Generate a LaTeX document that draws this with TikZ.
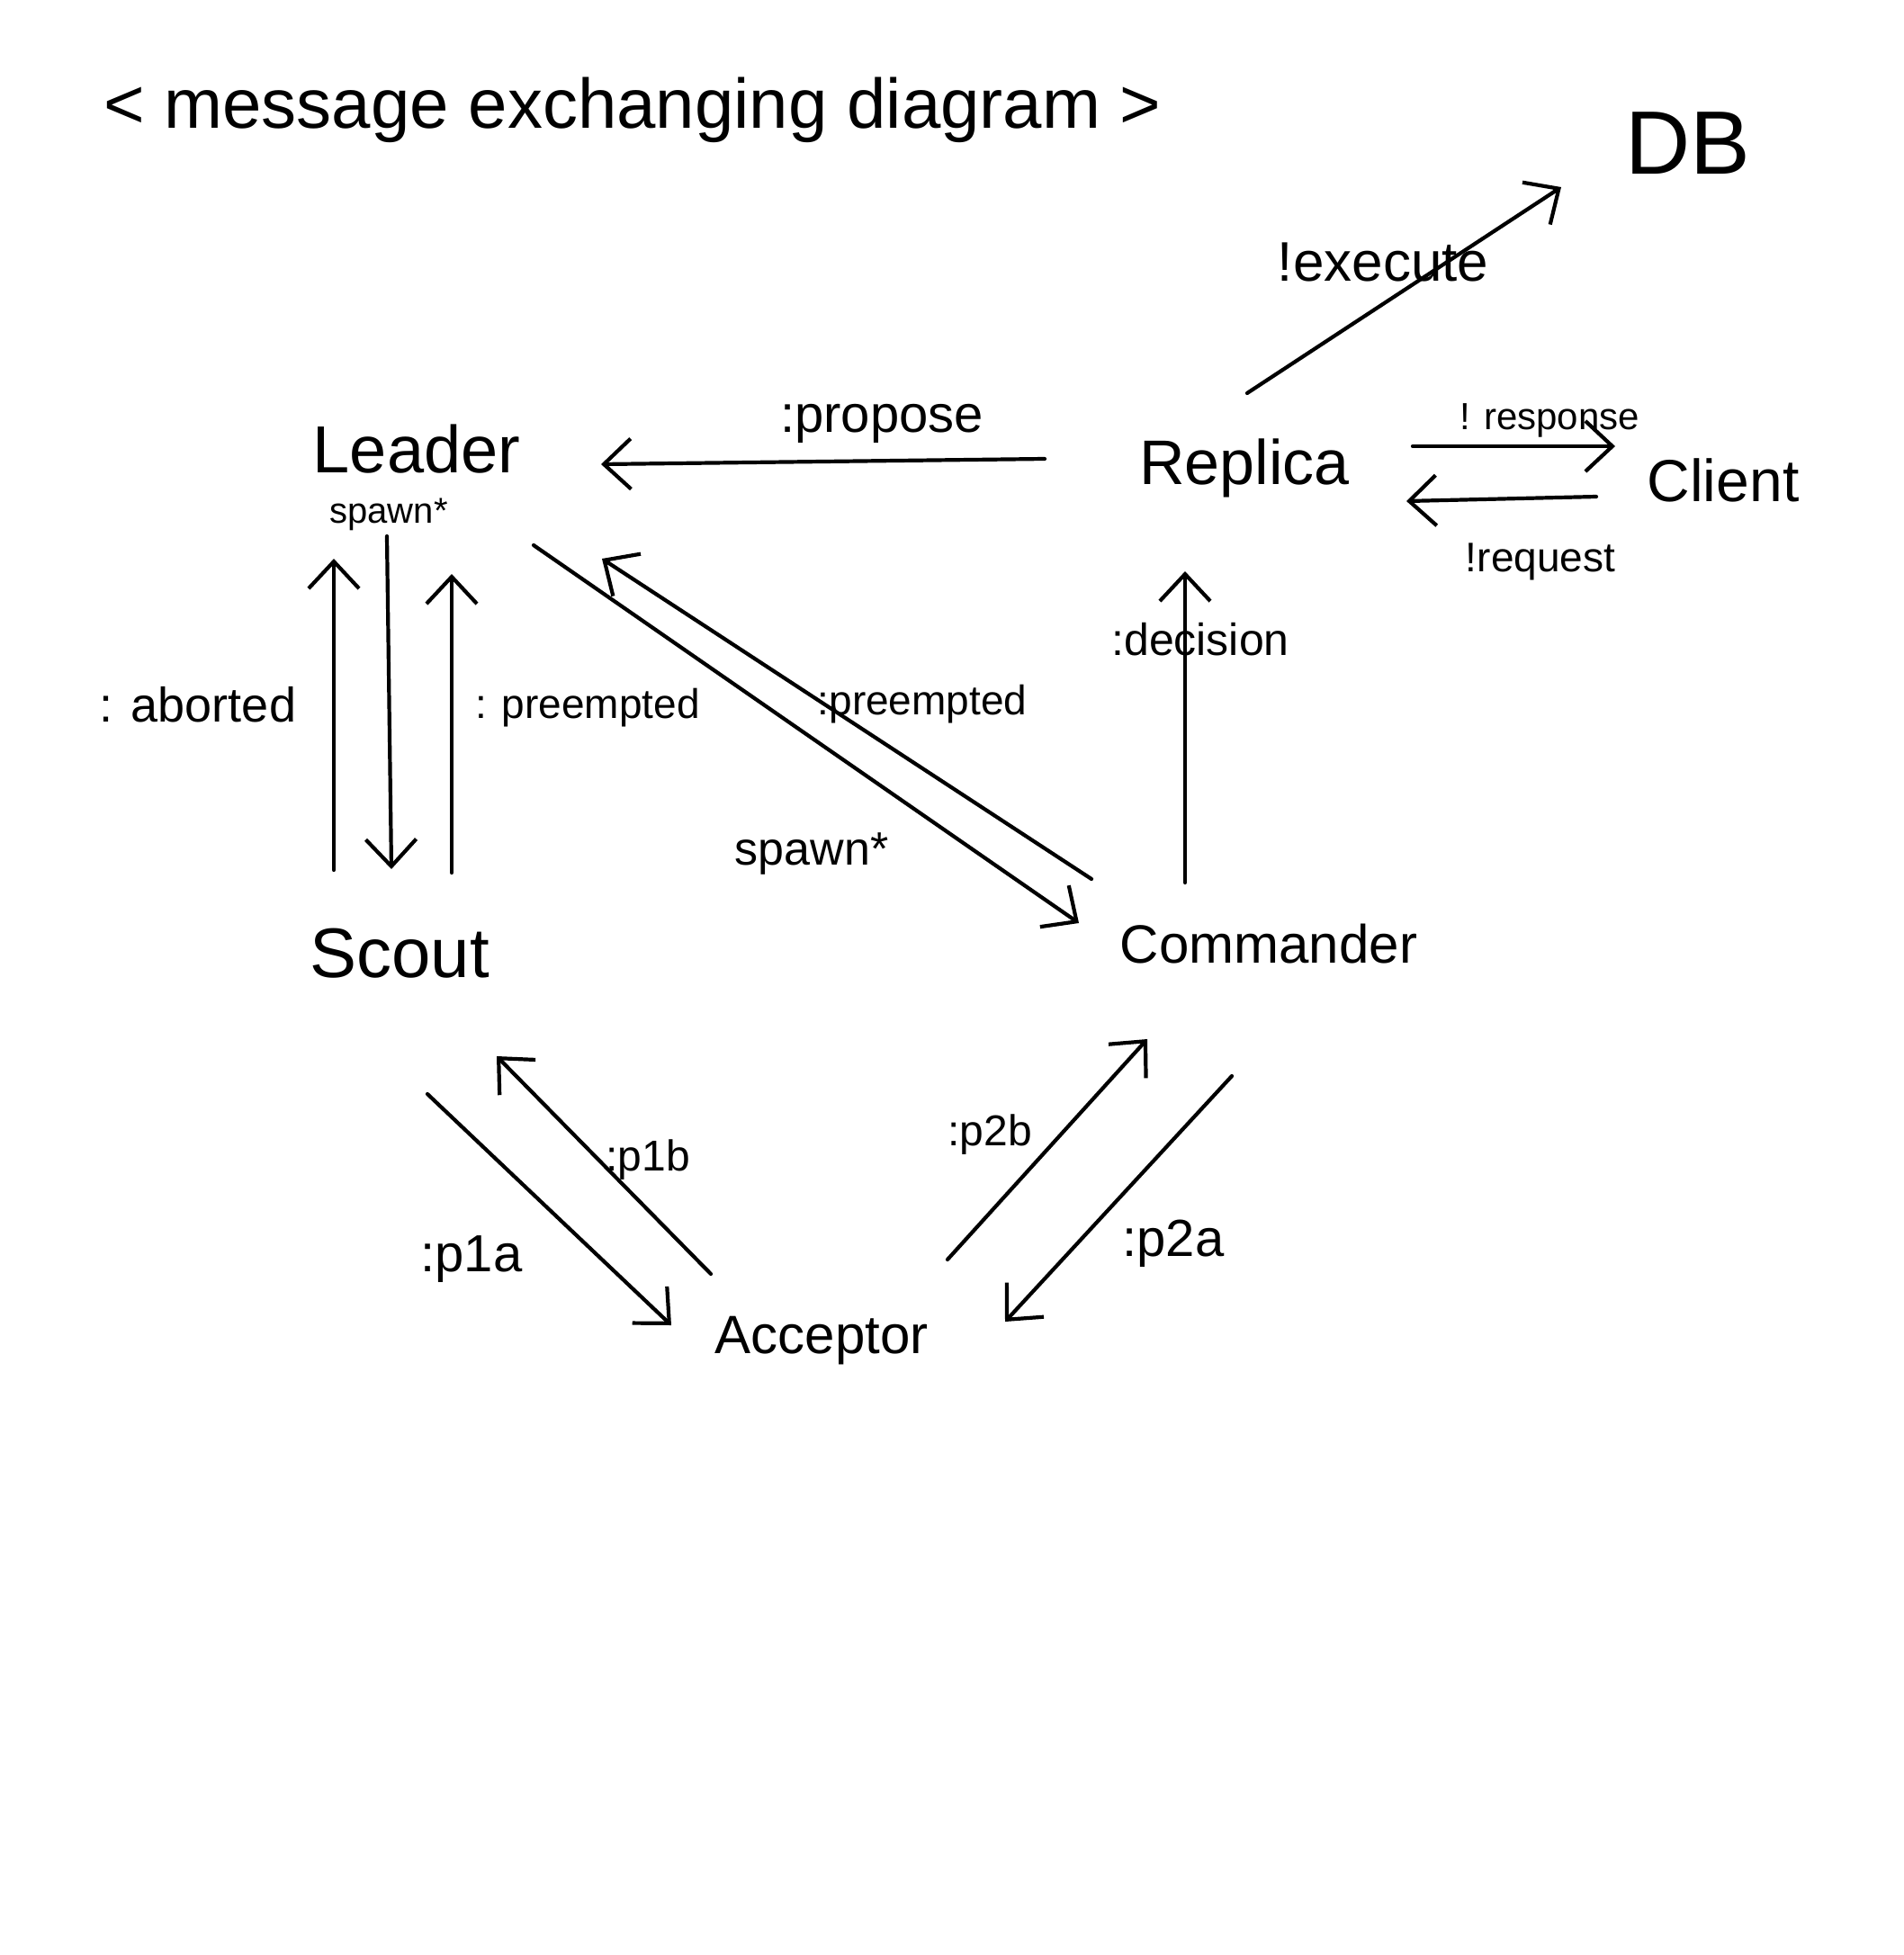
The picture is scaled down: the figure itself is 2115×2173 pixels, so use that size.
\documentclass[tikz,border=0pt]{standalone}
\usepackage{fontspec}
\setmainfont{Liberation Sans}
\usetikzlibrary{arrows.meta}
\begin{document}
\begin{tikzpicture}[x=0.5pt,y=-0.5pt,
  msg/.style={line width=2.1pt, line cap=round, -{Straight Barb[length=15pt,width=28pt,line width=2.1pt]}},
  ent/.style={inner sep=0pt, font=\fontsize{#1}{#1}\selectfont},
  lbl/.style={inner sep=0pt, font=\fontsize{#1}{#1}\selectfont}]
\useasboundingbox[fill=white] (0,0) rectangle (2115,2173);

% entities
\node[ent=39] (title) at (703,122) {< message exchanging diagram >};
\node[ent=50] (db) at (1876,159) {DB};
\node[ent=37] (leader) at (463,499) {Leader};
\node[ent=35] (replica) at (1383,520) {Replica};
\node[ent=33] (client) at (1915,534) {Client};
\node[ent=39] (scout) at (444,1060) {Scout};
\node[ent=30] (commander) at (1410,1049) {Commander};
\node[ent=30] (acceptor) at (913,1490) {Acceptor};

% connector end points
\coordinate (exA) at (1386,437);  \coordinate (exB) at (1735,208);
\coordinate (prA) at (1161,510);  \coordinate (prB) at (668,516);
\coordinate (rsA) at (1570,496);  \coordinate (rsB) at (1795,496);
\coordinate (rqA) at (1774,552);  \coordinate (rqB) at (1563,557);
\coordinate (dcA) at (1317,981);  \coordinate (dcB) at (1317,635);
\coordinate (abA) at (371,967);   \coordinate (abB) at (371,621);
\coordinate (ssA) at (430,596);   \coordinate (ssB) at (435,966);
\coordinate (psA) at (502,970);   \coordinate (psB) at (502,638);
\coordinate (scA) at (593,606);   \coordinate (scB) at (1199,1026);
\coordinate (pcA) at (1213,977);  \coordinate (pcB) at (669,621);
\coordinate (p1aA) at (475,1216); \coordinate (p1aB) at (746,1473);
\coordinate (p1bA) at (790,1416); \coordinate (p1bB) at (552,1174);
\coordinate (p2bA) at (1053,1400);\coordinate (p2bB) at (1275,1155);
\coordinate (p2aA) at (1369,1196);\coordinate (p2aB) at (1117,1469);

% connectors
\draw[msg] (exA) -- (exB);
\draw[msg] (prA) -- (prB);
\draw[msg] (rsA) -- (rsB);
\draw[msg] (rqA) -- (rqB);
\draw[msg] (dcA) -- (dcB);
\draw[msg] (abA) -- (abB);
\draw[msg] (ssA) -- (ssB);
\draw[msg] (psA) -- (psB);
\draw[msg] (scA) -- (scB);
\draw[msg] (pcA) -- (pcB);
\draw[msg] (p1aA) -- (p1aB);
\draw[msg] (p1bA) -- (p1bB);
\draw[msg] (p2bA) -- (p2bB);
\draw[msg] (p2aA) -- (p2aB);

% labels
\node[lbl=31] (lex) at (1537,291) {!execute};
\node[lbl=29] (lpr) at (980,471) {:propose};
\node[lbl=21] (lrs) at (1722,467) {! response};
\node[lbl=23] (lrq) at (1712,624) {!request};
\node[lbl=25] (ldc) at (1334,711) {:decision};
\node[lbl=27] (lab) at (220,783) {: aborted};
\node[lbl=20] (lsp1) at (432,572) {spawn*};
\node[lbl=23] (lps) at (653,787) {: preempted};
\node[lbl=23] (lpc) at (1025,783) {:preempted};
\node[lbl=26] (lsp2) at (902,949) {spawn*};
\node[lbl=29] (lp1a) at (524,1400) {:p1a};
\node[lbl=24] (lp1b) at (720,1289) {:p1b};
\node[lbl=24] (lp2b) at (1100,1261) {:p2b};
\node[lbl=29] (lp2a) at (1304,1382) {:p2a};
\end{tikzpicture}
\end{document}
